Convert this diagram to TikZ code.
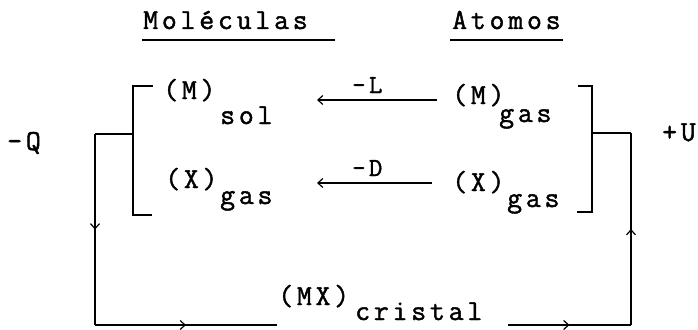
\documentclass[tikz,border=0pt]{standalone}
\usepackage{fontspec}
\newfontfamily\twf[LetterSpace=13,FakeBold=1.5]{Latin Modern Mono}
\usetikzlibrary{arrows.meta,decorations.markings}
\tikzset{
  txt/.style={anchor=base west,inner sep=0pt,font=\twf\fontsize{29}{29}\selectfont},
  lab/.style={anchor=base west,inner sep=0pt,font=\twf\fontsize{26}{26}\selectfont},
  ln/.style={line width=1.4pt},
  midarrow/.style={ln,decoration={markings,mark=at position 0.5 with {\arrow{Straight Barb[length=5pt,width=9pt,line width=1.2pt]}}},postaction={decorate}},
  harrow/.style={ln,-{Straight Barb[length=5pt,width=9pt,line width=1.2pt]}},
}
\begin{document}
\begin{tikzpicture}[x=1pt,y=-1pt]
\useasboundingbox (0,0) rectangle (698,329);
% headings
\node[txt] (mol) at (143,29) {Moléculas};
\node[txt] (atom) at (452,29) {Atomos};
\draw[ln] (142,40) -- (335,40);
\draw[ln] (450,40) -- (563,40);
% side labels
\node[txt] (q) at (7,150) {-Q};
\node[txt] (u) at (662,141) {+U};
% species
\node[txt] (msol) at (163,99) {(M)};
\node[txt] (msolsub) at (220,124) {sol};
\node[txt] (mgas) at (452,104) {(M)};
\node[txt] (mgassub) at (499,122) {gas};
\node[txt] (xgasL) at (165,188) {(X)};
\node[txt] (xgasLsub) at (220,204) {gas};
\node[txt] (xgasR) at (452,191) {(X)};
\node[txt] (xgasRsub) at (507,207) {gas};
\node[txt] (mx) at (278,305) {(MX)};
\node[txt] (mxsub) at (355,320) {cristal};
% energy labels
\node[lab] (L) at (352,93) {-L};
\node[lab] (D) at (352,176) {-D};
% horizontal arrows
\coordinate (a1s) at (437,100);
\coordinate (a1e) at (317,100);
\coordinate (a2s) at (432,183);
\coordinate (a2e) at (317,183);
\draw[harrow] (a1s) -- (a1e);
\draw[harrow] (a2s) -- (a2e);
% left bracket
\coordinate (lbt) at (133,86);
\coordinate (lbb) at (133,215);
\coordinate (lbm) at (133,134);
\draw[ln] (153,86) -- (lbt) -- (lbb) -- (152,215);
% right bracket
\coordinate (rbt) at (592,86);
\coordinate (rbb) at (592,212);
\coordinate (rbm) at (592,133);
\draw[ln] (578,86) -- (rbt) -- (rbb) -- (577,212);
% cycle
\coordinate (lc) at (95,134);
\coordinate (lbc) at (95,325);
\coordinate (lbe) at (277,325);
\coordinate (rbs) at (508,325);
\coordinate (rbc) at (631,325);
\coordinate (rc) at (631,133);
\draw[ln] (lbm) -- (lc);
\draw[midarrow] (lc) -- (lbc);
\draw[midarrow] (lbc) -- (lbe);
\draw[midarrow] (rbs) -- (rbc);
\draw[midarrow] (rbc) -- (rc);
\draw[ln] (rc) -- (rbm);
\end{tikzpicture}
\end{document}
